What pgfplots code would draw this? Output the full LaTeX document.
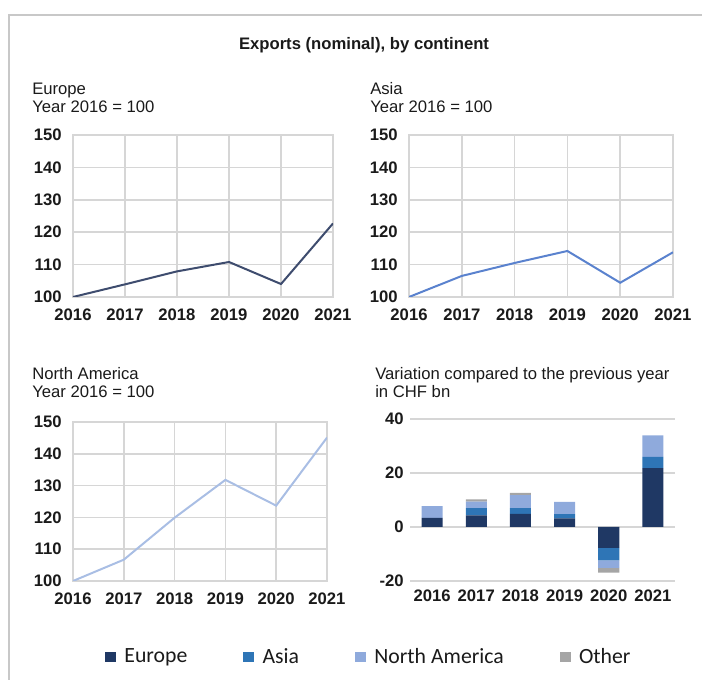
\documentclass[border=0pt]{standalone}
\usepackage{pgfplots}
\pgfplotsset{compat=1.18}
\usepackage{fontspec}
\setmainfont{Liberation Sans}
\newfontfamily\calibri{Carlito}
\definecolor{eu}{HTML}{1F3864}
\definecolor{as}{HTML}{2E75B6}
\definecolor{na}{HTML}{8FAADC}
\definecolor{ot}{HTML}{A5A5A5}
\definecolor{euline}{HTML}{3E4C6E}
\definecolor{asline}{HTML}{5A82CE}
\definecolor{naline}{HTML}{A9BEE4}
\definecolor{gridc}{HTML}{D6D6D6}
\definecolor{framec}{HTML}{C8C8C8}
\definecolor{txt}{HTML}{1A1A1A}
\pgfplotsset{
  lineax/.style={
    scale only axis, anchor=south west,
    xmin=2016, xmax=2021, ymin=100, ymax=150,
    xtick={2016,2017,...,2021}, ytick={100,110,...,150},
    grid=major, grid style={gridc, line width=1.2pt},
    axis line style={gridc, line width=1.2pt},
    major tick length=0pt,
    tick label style={font=\bfseries\fontsize{12.5}{15}\selectfont, text=txt},
    xticklabel style={yshift=-5pt},
    yticklabel style={xshift=-5pt},
    /pgf/number format/1000 sep={},
    /pgf/number format/assume math mode=true,
  }
}
\begin{document}
\begin{tikzpicture}[x=0.75pt,y=0.75pt]
\path[use as bounding box] (0,0) rectangle (702,680);
\draw[framec, line width=1.6pt] (9.3,0) -- (9.3,665.3) -- (702,665.3);
\tikzset{lab/.style={anchor=base west, inner sep=0pt, font=\fontsize{12.5}{15}\selectfont, text=txt}}
\node[anchor=base, inner sep=0pt, font=\bfseries\fontsize{12.5}{15}\selectfont, text=txt] at (364,630) {Exports (nominal), by continent};
\node[lab] at (32,585) {Europe};
\node[lab] at (32,567) {Year 2016 = 100};
\node[lab] at (370,585) {Asia};
\node[lab] at (370,567) {Year 2016 = 100};
\node[lab] at (32,300) {North America};
\node[lab] at (32,282) {Year 2016 = 100};
\node[lab] at (375,300) {Variation compared to the previous year};
\node[lab] at (375,282) {in CHF bn};

\begin{axis}[lineax, at={(54.75pt,287.25pt)}, width=195pt, height=121.5pt]
\addplot[euline, line width=1.5pt] coordinates {(2016,100) (2017,103.9) (2018,107.9) (2019,110.8) (2020,104.0) (2021,122.7)};
\end{axis}

\begin{axis}[lineax, at={(306.75pt,287.25pt)}, width=198pt, height=121.5pt]
\addplot[asline, line width=1.5pt] coordinates {(2016,100) (2017,106.5) (2018,110.5) (2019,114.2) (2020,104.4) (2021,113.8)};
\end{axis}

\begin{axis}[lineax, at={(54.75pt,74.25pt)}, width=190.5pt, height=119.25pt]
\addplot[naline, line width=1.5pt] coordinates {(2016,100) (2017,106.7) (2018,119.9) (2019,131.8) (2020,123.7) (2021,145.1)};
\end{axis}

\begin{axis}[scale only axis, anchor=south west, at={(307.5pt,74.25pt)},
  width=198.75pt, height=121.5pt,
  ybar stacked, bar width=15.75pt,
  xmin=-0.5, xmax=5.5, ymin=-20, ymax=40,
  xtick={0,1,2,3,4,5}, xticklabels={2016,2017,2018,2019,2020,2021},
  ytick={-20,0,20,40},
  ymajorgrids, grid style={gridc, line width=1.2pt},
  axis line style={draw=none},
  major tick length=0pt,
  tick label style={font=\bfseries\fontsize{12.5}{15}\selectfont, text=txt},
  xticklabel style={yshift=-2.75pt},
  yticklabel style={xshift=-1.25pt},
  /pgf/number format/assume math mode=true,
  legend columns=4,
  legend style={at={(-0.154,-0.469)}, anchor=center, draw=none, fill=none,
    font=\calibri\fontsize{16.3}{19}\selectfont, text=txt,
    /tikz/every even column/.append style={column sep=40pt},
    /tikz/every odd column/.append style={column sep=4.25pt}},
  legend image code/.code={\fill[#1] (0pt,-4.1pt) rectangle (8.2pt,4.1pt);},
]
\addplot[fill=eu, draw=none] coordinates {(0,3.4) (1,4.3) (2,4.9) (3,3.2) (4,-7.7) (5,21.8)};
\addplot[fill=as, draw=none] coordinates {(0,0) (1,2.7) (2,2.1) (3,1.6) (4,-4.7) (5,4.2)};
\addplot[fill=na, draw=none] coordinates {(0,4.3) (1,2.4) (2,4.8) (3,4.5) (4,-2.7) (5,7.9)};
\addplot[fill=ot, draw=none] coordinates {(0,0) (1,0.8) (2,0.8) (3,0) (4,-1.8) (5,0)};
\legend{Europe, Asia, North America, Other}
\end{axis}
\end{tikzpicture}
\end{document}
